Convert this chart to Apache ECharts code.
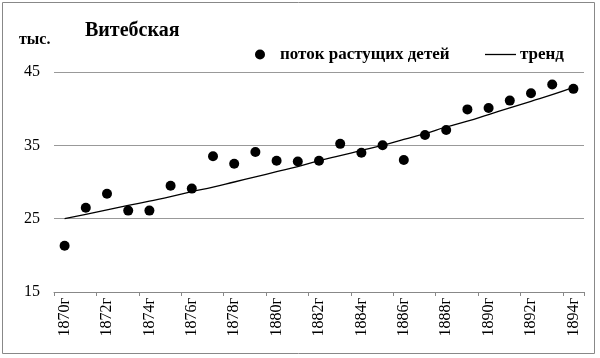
<!DOCTYPE html>
<html>
<head>
<meta charset="utf-8">
<script src="https://cdn.jsdelivr.net/npm/echarts@6/dist/echarts.min.js"></script>
<style>
html,body{margin:0;padding:0;background:#fff;}
#c{width:600px;height:358px;}
</style>
</head>
<body>
<div id="c"></div>
<script>
var years = ['1870г','1871г','1872г','1873г','1874г','1875г','1876г','1877г','1878г','1879г','1880г','1881г','1882г','1883г','1884г','1885г','1886г','1887г','1888г','1889г','1890г','1891г','1892г','1893г','1894г'];
var flowValues = [21.3, 26.5, 28.4, 26.1, 26.1, 29.5, 29.1, 33.5, 32.5, 34.1, 32.9, 32.8, 32.9, 35.2, 34.0, 35.0, 33.0, 36.4, 37.1, 39.9, 40.1, 41.1, 42.1, 43.3, 42.7];
var trendValues = [25.0, 25.6, 26.2, 26.8, 27.4, 28.0, 28.7, 29.3, 30.0, 30.7, 31.4, 32.1, 32.9, 33.6, 34.3, 35.0, 35.8, 36.6, 37.5, 38.3, 39.2, 40.1, 41.0, 41.9, 42.9];
var yTicks = [15, 25, 35, 45];

var serif = '"Liberation Serif","Times New Roman",serif';
var chart = echarts.init(document.getElementById('c'), null, {renderer:'canvas'});
chart.setOption({
  animation: false,
  backgroundColor: '#fff',
  textStyle: {fontFamily: serif, color: '#000'},
  title: [
    {text: 'Витебская', left: 80, top: 16, padding: 5, textStyle: {fontFamily: serif, fontSize: 20, fontWeight: 'bold', color: '#000'}},
    {text: 'тыс.', left: 14, top: 27, padding: 5, textStyle: {fontFamily: serif, fontSize: 16, fontWeight: 'bold', color: '#000'}}
  ],
  legend: [
    {data: [{name: 'поток растущих детей', icon: 'circle'}], left: 250, top: 41, itemWidth: 10, itemHeight: 10,
     textStyle: {fontFamily: serif, fontSize: 17, fontWeight: 'bold', color: '#000', padding: [0,0,0,10]}},
    {data: [{name: 'тренд', icon: 'rect'}], left: 480, top: 41, itemWidth: 31, itemHeight: 1.3,
     textStyle: {fontFamily: serif, fontSize: 17, fontWeight: 'bold', color: '#000', padding: [0,0,0,-1]}}
  ],
  grid: {left: 54, right: 16, top: 72, bottom: 66},
  xAxis: {
    type: 'category', data: years, boundaryGap: true,
    axisLine: {lineStyle: {color: '#888', width: 1}},
    axisTick: {show: true, length: 4, lineStyle: {color: '#888'}},
    axisLabel: {interval: 1, rotate: 90, margin: 6, fontFamily: serif, fontSize: 16, color: '#000'},
    splitLine: {show: false}
  },
  yAxis: {
    type: 'value', min: 15, max: 45, interval: 10,
    axisLine: {show: false}, axisTick: {show: false},
    axisLabel: {margin: 14, fontFamily: serif, fontSize: 16, color: '#000',
      formatter: function(v){ return yTicks.indexOf(v) >= 0 ? String(v) : ''; }},
    splitLine: {lineStyle: {color: '#999', width: 1}}
  },
  series: [
    {name: 'поток растущих детей', type: 'scatter', data: flowValues, symbol: 'circle', symbolSize: 10,
     itemStyle: {color: '#000', opacity: 1}},
    {name: 'тренд', type: 'line', data: trendValues, symbol: 'none', smooth: true,
     lineStyle: {color: '#000', width: 1.3}, itemStyle: {color: '#000'}}
  ],
  graphic: [
    {type: 'rect', shape: {x: 2.5, y: 2.5, width: 592, height: 351}, style: {fill: 'none', stroke: '#888', lineWidth: 1}, silent: true}
  ]
});
</script>
</body>
</html>
